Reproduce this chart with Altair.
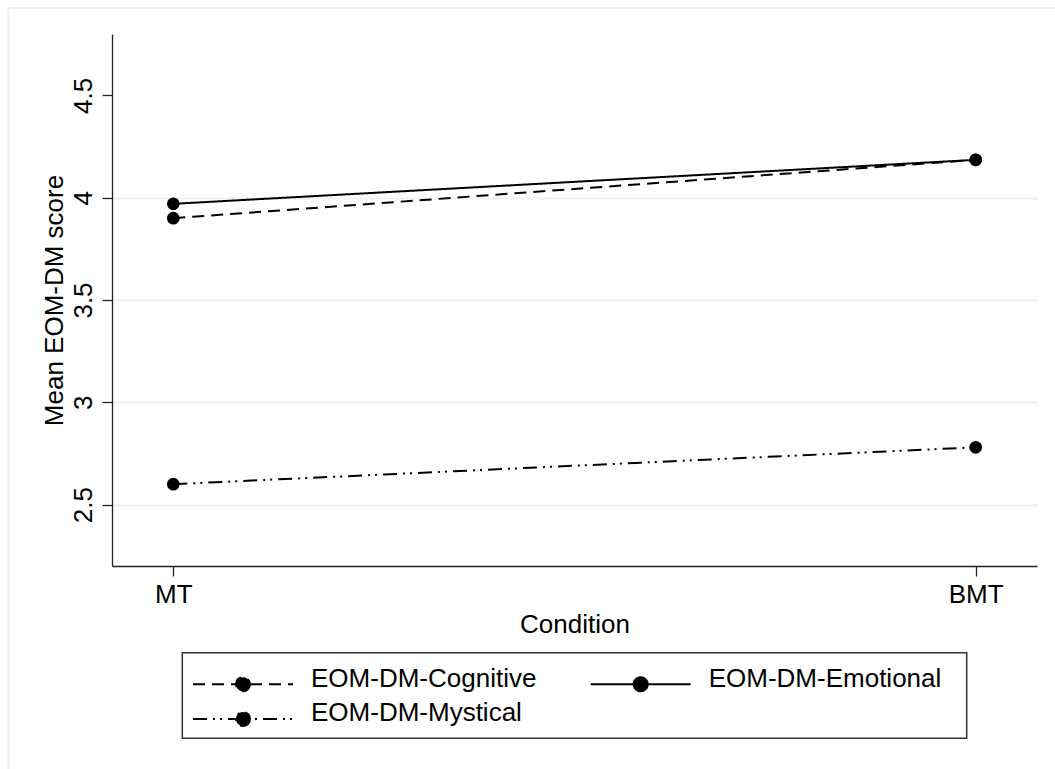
import altair as alt
import pandas as pd

# ---- data ----
conditions = ["MT", "BMT"]
series = ["EOM-DM-Cognitive", "EOM-DM-Emotional", "EOM-DM-Mystical"]
cognitive = [3.90, 4.185]
emotional = [3.97, 4.185]
mystical = [2.60, 2.78]
y_ticks = [2.5, 3, 3.5, 4, 4.5]

rows = []
for name, vals in zip(series, [cognitive, emotional, mystical]):
    for c, v in zip(conditions, vals):
        rows.append({"condition": c, "series": name, "score": v})
df = pd.DataFrame(rows)

FONT = "Liberation Sans"
W, H = 925, 532
AX = "#222222"
GRID = "#eaf2f3"

dash_by_series = {
    "EOM-DM-Cognitive": [12, 7],
    "EOM-DM-Emotional": [1, 0],
    "EOM-DM-Mystical": [14, 6, 2, 5, 2, 6],
}
# legend fills column by column: col 1 = Cognitive, Mystical; col 2 = Emotional
legend_order = [series[0], series[2], series[1]]
dash_range = [dash_by_series[s] for s in legend_order]

sym_path = ("M-1,0.112H1M0.14,0.112A0.14,0.14,0,1,1,-0.14,0.112"
            "A0.14,0.14,0,1,1,0.14,0.112Z")

x_enc = alt.X(
    "condition:N",
    sort=conditions,
    scale=alt.Scale(type="point", domain=conditions, padding=0.0764),
    axis=alt.Axis(
        title="Condition", labelAngle=0, labelFontSize=26, labelFont=FONT,
        labelColor="black", labelBaseline="alphabetic", labelPadding=26,
        tickSize=10, domainColor=AX, tickColor=AX, domainWidth=1.3,
        tickWidth=1.3, grid=False, titleFontSize=26, titleFont=FONT,
        titleFontWeight="normal", titleColor="black", titleX=462.5,
        titleY=66, titleBaseline="alphabetic", titleAlign="center",
    ),
)

y_enc = alt.Y(
    "score:Q",
    scale=alt.Scale(domain=[2.2, 4.8], nice=False, zero=False),
    axis=alt.Axis(
        values=y_ticks, format="~g", title="Mean EOM-DM score",
        labelAngle=270, labelAlign="center", labelBaseline="alphabetic",
        labelPadding=11, labelFontSize=26, labelFont=FONT, labelColor="black",
        tickSize=10, domainColor=AX, tickColor=AX, domainWidth=1.3,
        tickWidth=1.3, grid=True, gridColor=GRID, gridWidth=2,
        gridOpacity={"condition": {"test": "datum.value > 4.25", "value": 0}, "value": 1},
        titleAngle=270, titleX=-50, titleY=266, titleBaseline="alphabetic",
        titleAlign="center", titleFontSize=26, titleFont=FONT,
        titleFontWeight="normal", titleColor="black",
    ),
)

legend = alt.Legend(
    title=None, orient="none", legendX=80, legendY=628.7, columns=2,
    columnPadding=52.7, rowPadding=2.7, padding=0, clipHeight=32,
    symbolType=sym_path, symbolSize=10000, symbolStrokeWidth=2,
    symbolFillColor="black", symbolStrokeColor="black",
    labelFont=FONT, labelFontSize=26, labelColor="black", labelOffset=17,
    labelBaseline="middle", labelLimit=0,
)

base = alt.Chart(df)

lines = base.mark_line(color="black", strokeWidth=2).encode(
    x=x_enc,
    y=y_enc,
    strokeDash=alt.StrokeDash(
        "series:N", scale=alt.Scale(domain=legend_order, range=dash_range), legend=legend
    ),
    detail="series:N",
)

points = base.mark_circle(size=160, color="black", opacity=1).encode(
    x=alt.X("condition:N", sort=conditions),
    y="score:Q",
)

legend_box = alt.Chart(alt.Data(values=[{}])).mark_rect(
    fill="white", fillOpacity=0, stroke="#333333", strokeWidth=1.5
).encode(
    x=alt.value(70.3), x2=alt.value(854.7), y=alt.value(618.7), y2=alt.value(704.3)
)

outer_frame = alt.Chart(alt.Data(values=[{}])).mark_rect(
    fill="white", fillOpacity=0, stroke=GRID, strokeWidth=2
).encode(
    x=alt.value(-103.5), x2=alt.value(980), y=alt.value(-26), y2=alt.value(800)
)

chart = alt.layer(outer_frame, legend_box, lines, points).properties(
    width=W, height=H,
    autosize=alt.AutoSizeParams(type="none"),
    padding={"left": 112, "top": 34, "right": 18, "bottom": 203},
    background="white",
).configure_view(stroke="transparent")

chart.save("out.html", embed_options={"renderer": "svg", "actions": False})
